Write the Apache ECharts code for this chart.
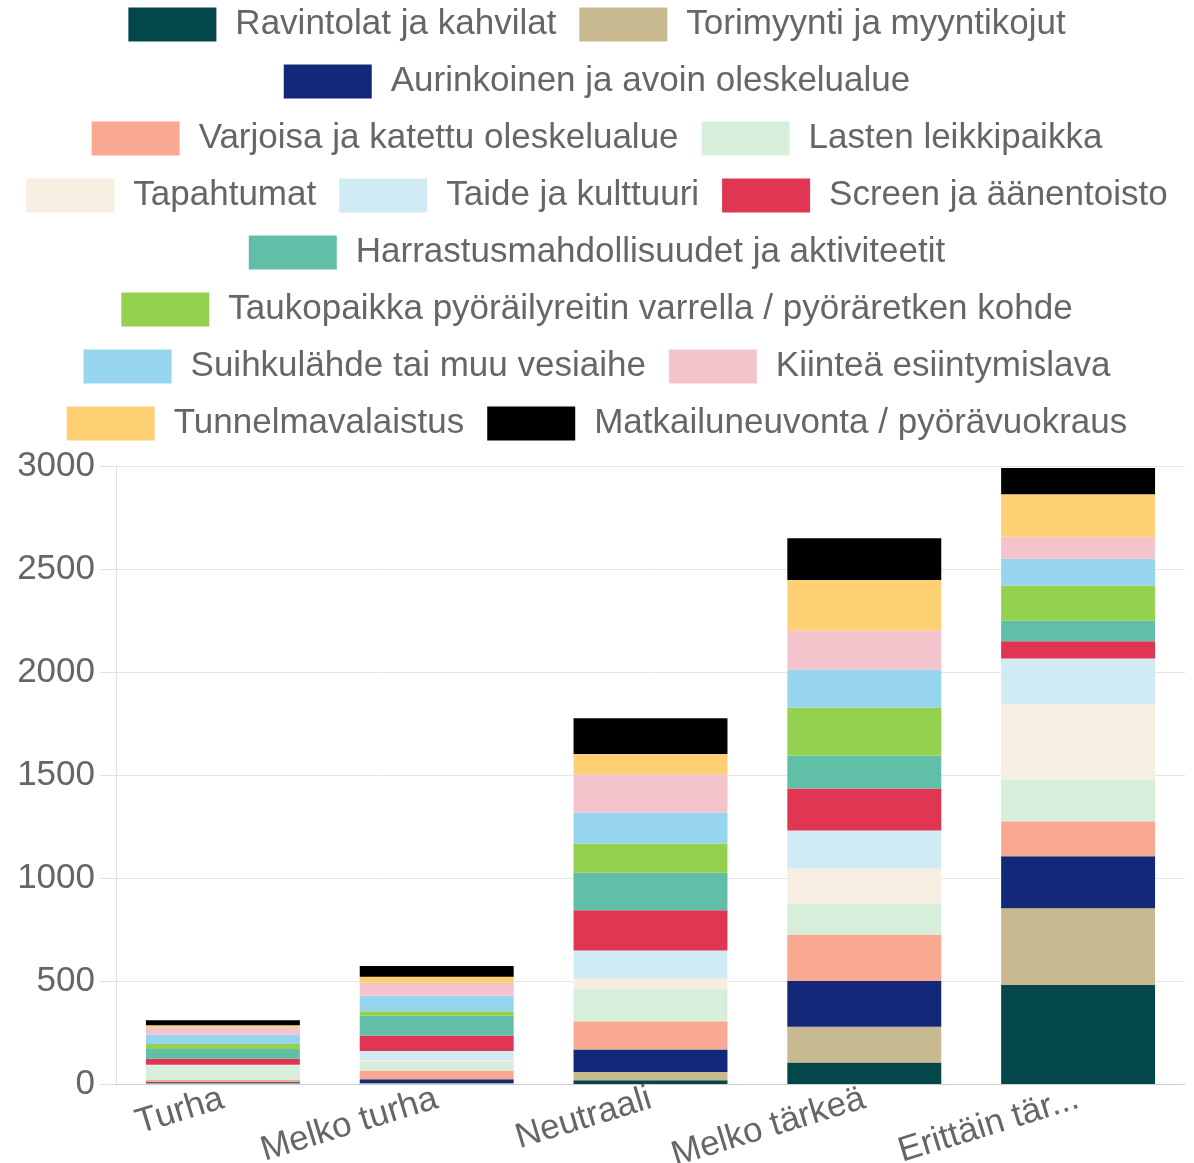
<!DOCTYPE html>
<html>
<head>
<meta charset="utf-8">
<script src="https://cdn.jsdelivr.net/npm/echarts@6/dist/echarts.min.js"></script>
<style>
  html, body { margin: 0; padding: 0; background: #fff; }
  #chart { width: 1194px; height: 1163px; }
</style>
</head>
<body>
<div id="chart"></div>
<script>
const categories = ['Turha', 'Melko turha', 'Neutraali', 'Melko tärkeä', 'Erittäin tärkeä'];
const yTicks = { min: 0, max: 3000, interval: 500 };

// values per category, bottom to top of the stack
const ravintolat = [2, 2, 18, 104, 480];
const torimyynti = [4, 3, 40, 174, 373];
const aurinkoinen = [4, 18, 109, 222, 252];
const varjoisa = [10, 42, 138, 226, 171];
const lasten = [68, 46, 159, 149, 202];
const tapahtumat = [3, 6, 47, 170, 367];
const taide = [3, 43, 137, 186, 221];
const screen = [29, 75, 195, 204, 83];
const harrastus = [47, 96, 183, 160, 101];
const taukopaikka = [24, 22, 141, 233, 169];
const suihku = [45, 75, 151, 183, 131];
const kiintea = [36, 64, 186, 190, 107];
const tunnelma = [10, 29, 98, 245, 206];
const matkailu = [24, 52, 173, 203, 127];

const seriesDefs = [
  { name: 'Ravintolat ja kahvilat', data: ravintolat, color: '#03474a' },
  { name: 'Torimyynti ja myyntikojut', data: torimyynti, color: '#c8b991' },
  { name: 'Aurinkoinen ja avoin oleskelualue', data: aurinkoinen, color: '#132878' },
  { name: 'Varjoisa ja katettu oleskelualue', data: varjoisa, color: '#f9a991' },
  { name: 'Lasten leikkipaikka', data: lasten, color: '#d7eedb' },
  { name: 'Tapahtumat', data: tapahtumat, color: '#f6eee0' },
  { name: 'Taide ja kulttuuri', data: taide, color: '#d0ebf4' },
  { name: 'Screen ja äänentoisto', data: screen, color: '#e03553' },
  { name: 'Harrastusmahdollisuudet ja aktiviteetit', data: harrastus, color: '#60bfa6' },
  { name: 'Taukopaikka pyöräilyreitin varrella / pyöräretken kohde', data: taukopaikka, color: '#94d14f' },
  { name: 'Suihkulähde tai muu vesiaihe', data: suihku, color: '#97d5ee' },
  { name: 'Kiinteä esiintymislava', data: kiintea, color: '#f4c4cd' },
  { name: 'Tunnelmavalaistus', data: tunnelma, color: '#fed073' },
  { name: 'Matkailuneuvonta / pyörävuokraus', data: matkailu, color: '#000000' }
];

// legend rows as they wrap in the original
const legendRows = [[0, 1], [2], [3, 4], [5, 6, 7], [8], [9], [10, 11], [12, 13]];

const FONT = '"Liberation Sans", Arial, sans-serif';
const chart = echarts.init(document.getElementById('chart'));

const legends = legendRows.map((row, i) => ({
  top: 2 + i * 57,
  left: 'center',
  padding: [5, 17, 5, 5],
  itemWidth: 88,
  itemHeight: 34,
  itemGap: 23,
  icon: 'rect',
  selectedMode: false,
  data: row.map(idx => seriesDefs[idx].name),
  textStyle: {
    color: '#666',
    fontSize: 35,
    fontFamily: FONT,
    padding: [0, 0, 0, 14]
  }
}));

const option = {
  animation: false,
  legend: legends,
  grid: { left: 116, right: 9, top: 466, bottom: 79, outerBoundsMode: 'none', containLabel: false },
  xAxis: {
    type: 'category',
    data: categories,
    axisLine: { lineStyle: { color: '#ccc' } },
    axisTick: { show: false },
    axisLabel: {
      color: '#666',
      fontSize: 35,
      fontFamily: FONT,
      rotate: 17,
      margin: 14,
      interval: 0,
      formatter: v => v.length > 12 ? v.slice(0, 12) + '...' : v
    }
  },
  yAxis: {
    type: 'value',
    min: yTicks.min,
    max: yTicks.max,
    interval: yTicks.interval,
    axisLine: { show: true, lineStyle: { color: '#e0e0e0' } },
    axisTick: { show: true, length: 16, lineStyle: { color: '#e0e0e0' } },
    splitLine: { lineStyle: { color: '#e6e6e6' } },
    axisLabel: {
      color: '#666',
      fontSize: 35,
      fontFamily: FONT,
      margin: 21,
      formatter: v => String(v)
    }
  },
  series: seriesDefs.map(s => ({
    name: s.name,
    type: 'bar',
    stack: 'total',
    barWidth: '72%',
    data: s.data,
    itemStyle: { color: s.color }
  }))
};

chart.setOption(option);
</script>
</body>
</html>
